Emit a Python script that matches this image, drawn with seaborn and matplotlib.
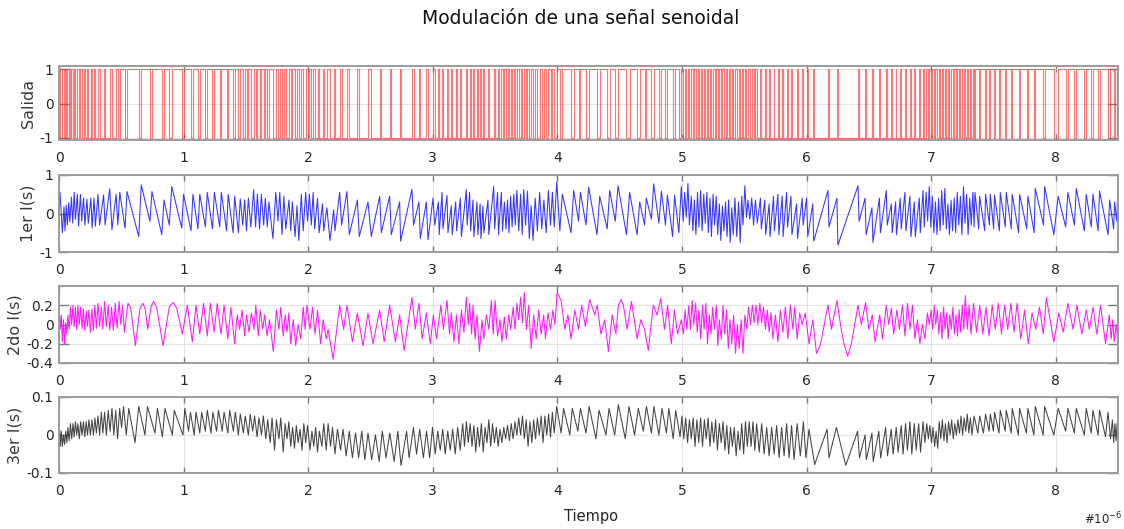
import numpy as np
import matplotlib
matplotlib.use("Agg")
import matplotlib.pyplot as plt
import seaborn as sns

# ---------------- data (time in microseconds) ----------------
titulo = "Modulación de una señal senoidal"
etiquetas_y = ["Salida", "1er I(s)", "2do I(s)", "3er I(s)"]
ticks_x = [0, 1, 2, 3, 4, 5, 6, 7, 8]

# 1st integrator: vertices (t, value); its slope changes exactly where the output switches
int1_pts = [
    (0.000,0.00),(0.008,0.55),(0.027,-0.50),(0.040,0.18),(0.048,-0.45),(0.058,0.22),(0.067,-0.30),(0.078,0.28),
    (0.087,-0.22),(0.100,0.42),(0.110,-0.25),(0.122,0.55),(0.132,-0.15),(0.147,0.50),(0.157,-0.33),(0.172,0.50),
    (0.182,-0.20),(0.197,0.40),(0.208,-0.30),(0.224,0.37),(0.235,-0.25),(0.256,0.40),(0.266,-0.38),(0.281,0.40),
    (0.292,-0.33),(0.313,0.50),(0.326,-0.30),(0.358,0.48),(0.370,-0.30),(0.407,0.64),(0.425,-0.42),(0.458,0.50),
    (0.472,-0.30),(0.488,0.55),(0.530,-0.38),(0.546,0.57),(0.640,-0.60),(0.660,0.74),(0.730,-0.20),(0.746,0.57),
    (0.825,-0.55),(0.843,0.35),(0.885,-0.30),(0.905,0.70),(0.985,-0.38),
    (1.000,0.50),(1.060,-0.45),(1.075,0.50),(1.115,-0.40),(1.130,0.50),(1.175,-0.35),(1.190,0.55),(1.232,-0.40),
    (1.247,0.55),(1.290,-0.35),(1.303,0.55),(1.345,-0.45),(1.358,0.50),(1.397,-0.50),(1.410,0.45),(1.440,-0.50),
    (1.455,0.38),(1.475,-0.30),(1.490,0.35),(1.505,-0.45),(1.520,0.40),(1.540,-0.35),(1.562,0.62),(1.578,-0.35),
    (1.592,0.50),(1.610,-0.40),(1.624,0.50),(1.643,-0.30),(1.656,0.40),(1.672,-0.35),(1.685,0.30),(1.717,-0.65),
    (1.740,0.55),(1.758,-0.20),(1.772,0.55),(1.790,-0.55),(1.805,0.45),(1.820,-0.40),(1.846,0.35),(1.860,-0.45),
    (1.873,0.30),(1.895,-0.60),(1.910,0.20),(1.925,-0.70),(1.945,0.50),(1.960,-0.45),(1.980,0.55),(1.995,-0.20),
    (2.010,0.50),(2.025,-0.30),(2.040,0.55),(2.052,-0.40),(2.075,0.40),(2.088,-0.50),(2.115,0.25),(2.125,-0.45),
    (2.150,0.15),(2.175,-0.70),(2.205,0.10),(2.215,-0.45),(2.253,0.55),(2.268,-0.30),(2.311,0.57),(2.330,-0.55),
    (2.395,0.35),(2.410,-0.60),(2.480,0.30),(2.507,-0.60),(2.574,0.45),(2.587,-0.50),(2.654,0.45),(2.667,-0.55),
    (2.734,0.30),(2.742,-0.72),(2.833,0.63),(2.846,-0.30),(2.889,0.30),(2.900,-0.65),(2.948,0.30),(2.962,-0.68),
    (3.002,0.40),(3.016,-0.30),
    (3.045,0.30),(3.052,-0.55),(3.074,0.55),(3.082,-0.40),(3.114,0.47),(3.122,-0.50),(3.149,0.20),(3.156,-0.55),
    (3.184,0.30),(3.192,-0.45),(3.221,0.40),(3.230,-0.60),(3.269,0.62),(3.276,-0.30),(3.296,0.55),(3.304,-0.45),
    (3.323,0.35),(3.330,-0.60),(3.355,0.30),(3.362,-0.55),(3.380,0.25),(3.387,-0.65),(3.403,0.20),(3.410,-0.50),
    (3.443,0.35),(3.450,-0.55),(3.489,0.70),(3.497,-0.40),(3.520,0.55),(3.528,-0.55),(3.550,0.55),(3.560,-0.45),
    (3.575,0.30),(3.588,-0.40),(3.600,0.35),(3.612,-0.50),(3.625,0.45),(3.637,-0.35),(3.650,0.50),(3.662,-0.30),
    (3.675,0.60),(3.690,-0.45),(3.705,0.50),(3.718,-0.55),(3.730,0.62),(3.745,-0.30),(3.760,0.58),(3.775,-0.65),
    (3.790,0.20),(3.805,-0.70),(3.822,0.40),(3.840,-0.45),(3.858,0.55),(3.875,-0.40),(3.892,0.35),(3.910,-0.50),
    (3.928,0.60),(3.945,-0.30),(3.960,0.55),(3.975,-0.35),(3.995,0.82),
    (4.020,-0.45),(4.040,0.50),(4.110,-0.50),(4.131,0.60),(4.170,-0.20),(4.185,0.55),(4.230,-0.30),(4.251,0.68),
    (4.318,-0.55),(4.340,0.45),(4.400,-0.40),(4.420,0.60),(4.465,-0.20),(4.487,0.72),(4.555,-0.55),(4.580,0.55),
    (4.640,-0.55),(4.661,0.30),(4.700,-0.30),(4.714,0.40),(4.755,-0.15),(4.773,0.77),(4.815,-0.25),(4.835,0.58),
    (4.868,-0.30),(4.883,0.48),(4.925,-0.60),(4.941,0.48),(4.975,-0.50),(4.995,0.70),
    (5.010,-0.20),(5.022,0.55),(5.035,-0.10),(5.048,0.78),(5.060,-0.30),(5.075,0.45),(5.088,-0.45),(5.100,0.35),
    (5.112,-0.55),(5.125,0.55),(5.137,-0.35),(5.150,0.60),(5.162,-0.45),(5.175,0.50),(5.187,-0.25),(5.200,0.55),
    (5.212,-0.50),(5.225,0.40),(5.237,-0.60),(5.250,0.50),(5.262,-0.30),(5.275,0.45),(5.287,-0.55),(5.300,0.25),
    (5.312,-0.70),(5.325,0.20),(5.337,-0.45),(5.350,0.30),(5.362,-0.60),(5.375,0.35),(5.387,-0.75),(5.400,0.15),
    (5.412,-0.55),(5.425,0.40),(5.440,-0.60),(5.455,0.30),(5.468,-0.75),(5.480,0.45),(5.490,-0.30),(5.505,0.72),
    (5.518,-0.10),(5.530,0.35),(5.545,-0.15),(5.560,0.40),(5.575,-0.30),(5.590,0.35),(5.605,-0.25),
    (5.630,0.40),(5.637,-0.40),(5.665,0.35),(5.672,-0.55),(5.700,0.25),(5.707,-0.60),(5.735,0.45),(5.742,-0.45),
    (5.770,0.50),(5.778,-0.55),(5.805,0.45),(5.812,-0.60),(5.840,0.55),(5.848,-0.35),(5.875,0.45),(5.883,-0.55),
    (5.920,0.25),(5.928,-0.65),(5.965,0.40),(5.973,-0.30),(6.000,0.40),(6.010,-0.60),
    (6.050,0.25),(6.058,-0.72),(6.172,0.60),(6.180,-0.35),(6.244,0.40),(6.252,-0.82),(6.413,0.72),(6.422,-0.20),
    (6.470,0.40),(6.478,-0.55),(6.525,0.15),(6.533,-0.75),(6.585,0.40),(6.593,-0.50),(6.640,0.60),(6.648,-0.30),
    (6.680,0.25),(6.688,-0.50),(6.715,0.30),(6.722,-0.55),(6.752,0.40),(6.760,-0.40),(6.790,0.55),(6.798,-0.45),
    (6.830,0.45),(6.838,-0.60),(6.865,0.30),(6.873,-0.60),(6.905,0.40),(6.913,-0.50),(6.935,0.60),(6.945,-0.35),
    (6.960,0.55),(6.972,-0.20),(6.985,0.70),(6.998,-0.35),(7.010,0.45),(7.022,-0.50),(7.035,0.30),(7.047,-0.55),
    (7.060,0.40),(7.072,-0.45),(7.085,0.60),(7.097,-0.30),(7.110,0.65),(7.122,-0.40),(7.135,0.25),(7.147,-0.55),
    (7.160,0.35),(7.172,-0.45),(7.185,0.40),(7.197,-0.50),(7.210,0.55),(7.222,-0.30),(7.235,0.45),(7.247,-0.55),
    (7.260,0.70),(7.272,-0.25),(7.285,0.50),(7.297,-0.55),(7.310,0.40),(7.322,-0.30),(7.335,0.55),
    (7.345,-0.35),(7.352,0.55),(7.382,-0.40),(7.389,0.45),(7.430,-0.45),(7.437,0.50),(7.468,-0.30),(7.475,0.50),
    (7.502,-0.40),(7.509,0.48),(7.548,-0.45),(7.555,0.55),(7.595,-0.35),(7.603,0.55),(7.643,-0.40),(7.651,0.50),
    (7.702,-0.50),(7.710,0.50),(7.768,-0.40),(7.777,0.45),(7.827,-0.50),(7.836,0.65),(7.902,-0.30),(7.911,0.70),
    (7.985,-0.55),
    (8.020,0.45),(8.080,-0.35),(8.098,0.55),(8.150,-0.30),(8.165,0.65),(8.230,-0.45),(8.245,0.50),(8.285,-0.35),
    (8.299,0.50),(8.340,-0.45),(8.352,0.58),(8.420,-0.55),(8.433,0.35),(8.465,-0.40),(8.473,0.30),(8.490,-0.20),
    (8.500,0.70),
]

# 2nd integrator: vertices (t, value)
int2_pts = [
    (0.000,0.20),(0.010,-0.05),(0.018,0.10),(0.027,-0.18),(0.036,0.05),(0.045,-0.20),(0.054,0.02),(0.063,-0.10),
    (0.072,0.10),(0.082,-0.05),(0.092,0.18),(0.102,0.00),(0.112,0.20),(0.122,-0.02),(0.132,0.18),(0.142,-0.05),
    (0.152,0.20),(0.163,0.00),(0.174,0.18),(0.185,-0.04),(0.196,0.16),(0.207,-0.06),(0.218,0.14),(0.229,-0.02),
    (0.240,0.15),(0.252,-0.08),(0.264,0.16),(0.276,-0.06),(0.288,0.20),(0.300,-0.04),(0.313,0.22),(0.326,-0.02),
    (0.340,0.18),(0.352,-0.05),(0.366,0.24),(0.380,-0.02),(0.395,0.20),(0.408,-0.06),(0.422,0.18),(0.436,-0.06),
    (0.452,0.22),(0.466,-0.04),(0.482,0.24),(0.496,0.00),(0.510,0.20),(0.525,-0.08),(0.554,0.22),(0.575,0.17),
    (0.613,-0.22),(0.650,0.17),(0.674,0.22),(0.692,0.16),(0.712,-0.05),(0.740,0.19),(0.760,0.24),(0.785,0.17),
    (0.835,-0.22),(0.885,0.18),(0.915,0.23),(0.945,0.17),(0.990,-0.10),
    (1.030,0.20),(1.070,-0.18),(1.100,0.20),(1.130,-0.10),(1.160,0.22),(1.190,-0.12),(1.215,0.22),(1.245,-0.08),
    (1.270,0.22),(1.300,-0.10),(1.325,0.20),(1.355,-0.15),(1.380,0.18),(1.410,-0.20),(1.430,0.10),(1.450,-0.05),
    (1.470,0.15),(1.490,-0.12),(1.505,0.10),(1.525,-0.08),(1.545,0.12),(1.565,-0.05),(1.580,0.20),(1.600,-0.12),
    (1.615,0.15),(1.635,-0.05),(1.650,0.10),(1.670,-0.12),(1.690,0.05),(1.720,-0.28),(1.745,0.15),(1.765,-0.05),
    (1.780,0.18),(1.800,-0.12),(1.815,0.10),(1.830,-0.08),(1.845,0.12),(1.860,-0.20),(1.880,0.05),(1.900,-0.22),
    (1.920,0.00),(1.940,-0.15),(1.960,0.18),(1.975,-0.05),(1.990,0.20),
    (2.015,-0.05),(2.035,0.18),(2.055,-0.10),(2.075,0.15),(2.100,-0.20),(2.120,0.05),(2.145,-0.15),(2.160,-0.05),
    (2.200,-0.36),(2.253,0.20),(2.285,-0.05),(2.311,0.20),(2.355,-0.18),(2.395,0.12),(2.440,-0.22),(2.480,0.12),
    (2.520,-0.20),(2.574,0.15),(2.610,-0.18),(2.654,0.20),(2.700,-0.18),(2.734,0.10),(2.770,-0.27),(2.833,0.28),
    (2.860,-0.05),(2.889,0.22),(2.915,-0.15),(2.948,0.12),(2.980,-0.20),(3.005,0.10),
    (3.030,-0.15),(3.065,0.20),(3.085,-0.05),(3.114,0.25),(3.135,-0.10),(3.149,0.12),(3.170,-0.18),(3.190,0.10),
    (3.210,-0.20),(3.230,0.15),(3.250,-0.08),(3.269,0.28),(3.285,0.00),(3.296,0.22),(3.312,-0.10),(3.323,0.20),
    (3.340,-0.15),(3.355,0.10),(3.375,-0.28),(3.395,0.05),(3.410,-0.15),(3.430,0.10),(3.450,-0.05),(3.470,0.25),
    (3.485,-0.10),(3.500,0.25),(3.520,-0.12),(3.540,0.05),(3.555,-0.18),(3.575,0.08),(3.590,-0.15),(3.610,0.10),
    (3.625,-0.05),(3.645,0.18),(3.660,-0.05),(3.675,0.22),(3.690,0.05),(3.705,0.28),(3.720,0.02),(3.735,0.33),
    (3.752,-0.05),(3.770,0.20),(3.790,-0.25),(3.810,0.10),(3.830,-0.15),(3.850,0.15),(3.870,-0.10),(3.890,0.10),
    (3.905,-0.15),(3.925,0.12),(3.945,-0.05),(3.965,0.15),(3.980,0.00),(3.998,0.33),
    (4.030,0.25),(4.060,-0.05),(4.085,0.10),(4.110,-0.15),(4.140,0.15),(4.170,-0.05),(4.195,0.20),(4.225,-0.02),
    (4.260,0.26),(4.300,0.10),(4.320,0.20),(4.350,-0.10),(4.380,0.05),(4.410,-0.28),(4.440,0.10),(4.470,-0.10),
    (4.490,0.20),(4.510,0.26),(4.530,0.20),(4.560,-0.05),(4.595,0.24),(4.640,-0.15),(4.670,0.05),(4.700,-0.05),
    (4.730,-0.27),(4.770,0.20),(4.800,0.10),(4.830,0.27),(4.860,-0.05),(4.885,0.20),(4.915,-0.20),(4.940,0.15),
    (4.965,-0.10),(4.995,0.05),
    (5.012,-0.10),(5.025,0.15),(5.040,-0.05),(5.055,0.20),(5.068,-0.05),(5.082,0.25),(5.095,0.00),(5.110,0.22),
    (5.123,-0.08),(5.137,0.15),(5.150,-0.15),(5.165,0.20),(5.178,-0.05),(5.192,0.22),(5.205,-0.20),(5.220,0.10),
    (5.233,-0.10),(5.247,0.18),(5.260,-0.05),(5.275,0.20),(5.288,-0.22),(5.300,0.05),(5.315,-0.15),(5.330,0.20),
    (5.343,-0.10),(5.358,0.15),(5.372,-0.25),(5.385,0.05),(5.400,-0.20),(5.415,0.10),(5.430,-0.30),(5.445,0.00),
    (5.460,-0.25),(5.475,0.05),(5.490,-0.30),(5.505,0.10),(5.520,-0.05),(5.535,0.18),(5.550,0.00),(5.565,0.20),
    (5.580,0.02),(5.595,0.20),(5.610,0.00),(5.625,0.22),(5.640,0.02),(5.655,0.18),(5.670,-0.05),(5.685,0.15),
    (5.700,-0.08),(5.715,0.12),(5.730,-0.15),(5.750,0.10),(5.770,-0.18),(5.790,0.15),(5.810,-0.08),(5.830,0.18),
    (5.850,-0.15),(5.870,0.20),(5.890,-0.05),(5.905,0.18),(5.925,-0.15),(5.945,0.12),(5.965,0.00),(5.990,0.12),
    (6.020,-0.20),(6.050,0.05),(6.080,-0.30),(6.110,-0.22),(6.172,0.20),(6.200,-0.05),(6.244,0.25),(6.275,-0.02),
    (6.300,-0.20),(6.330,-0.33),(6.360,-0.20),(6.413,0.20),(6.440,0.00),(6.474,0.23),(6.500,-0.05),(6.528,0.10),
    (6.550,-0.18),(6.587,0.10),(6.610,-0.15),(6.640,0.20),(6.660,0.00),(6.680,0.17),(6.700,-0.10),(6.725,0.15),
    (6.745,-0.05),(6.770,0.20),(6.790,-0.12),(6.810,0.22),(6.830,-0.05),(6.850,0.20),(6.870,-0.15),(6.890,0.05),
    (6.910,-0.20),(6.930,0.00),(6.950,-0.15),(6.970,0.12),
    (6.985,0.00),(7.000,0.15),(7.012,-0.05),(7.025,0.20),(7.037,0.00),(7.050,0.15),(7.062,-0.10),(7.075,0.12),
    (7.087,-0.15),(7.100,0.18),(7.112,-0.05),(7.125,0.12),(7.137,-0.15),(7.150,0.10),(7.162,-0.05),(7.175,0.18),
    (7.187,-0.10),(7.200,0.10),(7.212,-0.12),(7.225,0.15),(7.237,-0.08),(7.250,0.20),(7.262,-0.05),(7.275,0.30),
    (7.290,-0.05),(7.305,0.20),(7.320,-0.10),(7.340,0.22),(7.365,-0.08),(7.390,0.20),(7.415,-0.10),(7.440,0.18),
    (7.465,-0.12),(7.490,0.20),(7.515,-0.05),(7.540,0.22),(7.565,-0.10),(7.590,0.20),(7.615,-0.05),(7.640,0.22),
    (7.665,-0.08),(7.690,0.22),(7.720,-0.15),(7.750,0.15),(7.780,-0.20),(7.810,0.12),(7.840,-0.05),(7.870,0.18),
    (7.900,-0.10),(7.925,0.28),(7.985,-0.18),
    (8.025,0.12),(8.060,-0.08),(8.098,0.22),(8.140,-0.05),(8.170,0.20),(8.210,-0.10),(8.245,0.15),(8.270,-0.05),
    (8.300,0.18),(8.330,-0.10),(8.360,0.20),(8.400,-0.20),(8.430,0.10),(8.445,-0.15),(8.458,0.05),(8.470,-0.18),
    (8.485,0.00),(8.495,-0.12),(8.500,0.05),
]

# 3rd integrator: vertices (t, value)
int3_pts = [
    (0.000,0.050),(0.010,-0.030),(0.018,0.010),(0.027,-0.030),(0.036,0.000),(0.045,-0.025),(0.054,0.010),(0.063,-0.020),
    (0.072,0.020),(0.082,-0.015),(0.092,0.030),(0.102,-0.010),(0.112,0.030),(0.122,-0.005),(0.132,0.035),(0.142,0.000),
    (0.152,0.030),(0.163,-0.010),(0.174,0.035),(0.185,0.000),(0.196,0.035),(0.207,-0.005),(0.218,0.035),(0.229,0.000),
    (0.240,0.040),(0.252,0.000),(0.264,0.040),(0.276,0.000),(0.288,0.045),(0.300,0.005),(0.313,0.050),(0.326,0.000),
    (0.340,0.060),(0.352,0.005),(0.366,0.060),(0.380,0.000),(0.395,0.065),(0.410,0.010),(0.425,0.070),(0.440,0.000),
    (0.455,0.065),(0.470,-0.010),(0.487,0.070),(0.502,0.020),(0.518,0.075),(0.540,0.000),(0.560,0.070),(0.610,-0.020),
    (0.640,0.075),(0.690,0.000),(0.710,0.075),(0.770,0.005),(0.790,0.070),(0.830,-0.005),(0.850,0.070),(0.910,0.000),
    (0.925,0.065),(0.995,0.000),
    (1.010,0.070),(1.040,0.010),(1.055,0.060),(1.085,0.000),(1.100,0.060),(1.130,0.005),(1.145,0.060),(1.175,0.010),
    (1.190,0.065),(1.220,0.005),(1.235,0.060),(1.265,0.010),(1.280,0.065),(1.310,0.010),(1.325,0.060),(1.355,0.005),
    (1.370,0.065),(1.400,0.010),(1.415,0.060),(1.440,0.000),(1.455,0.055),(1.480,0.005),(1.495,0.050),(1.520,0.000),
    (1.535,0.055),(1.555,0.010),(1.570,0.050),(1.590,-0.005),(1.605,0.045),(1.625,0.000),(1.640,0.050),(1.660,-0.010),
    (1.675,0.040),(1.695,-0.020),(1.710,0.045),(1.730,-0.040),(1.745,0.040),(1.765,-0.010),(1.780,0.045),(1.800,-0.045),
    (1.815,0.030),(1.830,-0.010),(1.845,0.035),(1.860,-0.030),(1.875,0.020),(1.890,-0.035),(1.905,0.025),(1.920,-0.020),
    (1.935,0.015),(1.950,-0.040),(1.965,0.030),(1.980,-0.020),(1.995,0.025),
    (2.015,-0.040),(2.030,0.010),(2.045,-0.030),(2.060,0.020),(2.075,-0.045),(2.090,0.010),(2.110,-0.030),(2.125,0.030),
    (2.145,-0.040),(2.160,0.030),(2.180,-0.030),(2.195,0.020),(2.215,-0.050),(2.235,0.015),(2.260,-0.040),(2.280,0.015),
    (2.305,-0.055),(2.330,0.010),(2.355,-0.060),(2.380,0.005),(2.405,-0.060),(2.430,0.010),(2.455,-0.065),(2.480,0.005),
    (2.510,-0.065),(2.540,0.000),(2.570,-0.070),(2.595,0.010),(2.625,-0.060),(2.655,0.005),(2.690,-0.070),(2.720,0.010),
    (2.745,-0.080),(2.790,0.010),(2.810,-0.060),(2.845,0.020),(2.870,-0.050),(2.895,0.015),(2.925,-0.060),(2.950,0.010),
    (2.975,-0.060),(2.998,0.020),
    (3.020,-0.050),(3.040,0.010),(3.060,-0.040),(3.080,0.015),(3.100,-0.050),(3.120,0.010),(3.140,-0.040),(3.160,0.015),
    (3.180,-0.050),(3.200,0.020),(3.220,-0.040),(3.240,0.030),(3.255,-0.030),(3.270,0.035),(3.285,-0.020),(3.300,0.030),
    (3.315,-0.030),(3.330,0.025),(3.345,-0.045),(3.360,0.020),(3.375,-0.030),(3.390,0.030),(3.405,-0.045),(3.420,0.020),
    (3.435,-0.020),(3.450,0.040),(3.465,-0.030),(3.480,0.030),(3.495,-0.020),(3.510,0.020),(3.525,-0.030),(3.540,0.015),
    (3.555,-0.020),(3.570,0.020),(3.585,-0.010),(3.600,0.025),(3.615,-0.015),(3.630,0.030),(3.645,-0.010),(3.660,0.035),
    (3.675,0.000),(3.690,0.045),(3.705,0.000),(3.720,0.050),(3.735,-0.010),(3.750,0.040),(3.765,-0.030),(3.780,0.035),
    (3.795,-0.020),(3.810,0.040),(3.825,-0.010),(3.840,0.045),(3.855,0.000),(3.870,0.050),(3.885,-0.020),(3.900,0.050),
    (3.915,0.000),(3.930,0.055),(3.945,-0.005),(3.960,0.060),(3.975,0.005),(3.995,0.075),
    (4.030,0.005),(4.050,0.070),(4.100,0.000),(4.120,0.070),(4.165,0.010),(4.185,0.070),(4.230,0.005),(4.255,0.075),
    (4.310,-0.010),(4.335,0.065),(4.390,0.000),(4.415,0.070),(4.460,0.000),(4.490,0.080),(4.545,-0.010),(4.575,0.075),
    (4.620,0.000),(4.650,0.070),(4.690,0.010),(4.715,0.075),(4.755,0.005),(4.775,0.075),(4.815,0.000),(4.840,0.070),
    (4.875,0.005),(4.895,0.070),(4.930,-0.010),(4.950,0.065),(4.985,-0.005),
    (5.000,0.050),(5.015,-0.010),(5.030,0.045),(5.045,-0.020),(5.060,0.040),(5.075,-0.010),(5.090,0.045),(5.105,-0.030),
    (5.120,0.040),(5.135,-0.020),(5.150,0.045),(5.165,-0.030),(5.180,0.040),(5.195,-0.010),(5.210,0.045),(5.225,-0.030),
    (5.240,0.035),(5.255,-0.020),(5.270,0.040),(5.285,-0.040),(5.300,0.030),(5.315,-0.020),(5.330,0.035),(5.345,-0.040),
    (5.360,0.025),(5.375,-0.050),(5.390,0.020),(5.405,-0.030),(5.420,0.020),(5.435,-0.055),(5.450,0.010),(5.465,-0.040),
    (5.480,0.030),(5.495,-0.050),(5.510,0.035),(5.525,-0.030),(5.540,0.035),(5.555,-0.030),(5.570,0.035),(5.585,-0.040),
    (5.600,0.030),(5.620,-0.045),(5.640,0.030),(5.660,-0.050),(5.680,0.020),(5.700,-0.055),(5.720,0.020),(5.740,-0.050),
    (5.760,0.025),(5.780,-0.060),(5.800,0.020),(5.820,-0.055),(5.840,0.030),(5.860,-0.060),(5.880,0.025),(5.900,-0.065),
    (5.925,0.030),(5.950,-0.055),(5.975,0.035),(5.995,-0.060),
    (6.020,0.015),(6.065,-0.078),(6.165,0.015),(6.180,-0.060),(6.240,0.020),(6.315,-0.080),(6.410,0.010),(6.425,-0.060),
    (6.470,0.000),(6.480,-0.065),(6.525,0.005),(6.535,-0.070),(6.580,0.010),(6.595,-0.060),(6.635,0.020),(6.650,-0.055),
    (6.680,0.015),(6.695,-0.050),(6.720,0.020),(6.735,-0.045),(6.760,0.025),(6.775,-0.050),(6.795,0.030),(6.810,-0.040),
    (6.830,0.035),(6.845,-0.050),(6.865,0.030),(6.880,-0.040),(6.900,0.030),(6.915,-0.045),(6.935,0.035),(6.950,-0.020),
    (6.965,0.030),(6.978,-0.010),(6.990,0.025),(7.003,-0.020),(7.015,0.020),(7.028,-0.030),(7.040,0.010),(7.053,-0.035),
    (7.065,0.035),(7.078,-0.010),(7.090,0.040),(7.103,-0.015),(7.115,0.030),(7.128,-0.020),(7.140,0.035),(7.153,0.000),
    (7.165,0.040),(7.178,-0.010),(7.190,0.030),(7.203,0.000),(7.215,0.040),(7.228,0.005),(7.240,0.050),(7.253,0.000),
    (7.265,0.045),(7.278,0.010),(7.290,0.055),(7.303,0.005),(7.315,0.045),(7.328,0.000),(7.345,0.050),(7.375,0.005),
    (7.390,0.050),(7.420,0.005),(7.437,0.055),(7.465,0.010),(7.475,0.055),(7.500,0.010),(7.509,0.060),(7.545,0.005),
    (7.555,0.065),(7.595,0.010),(7.603,0.065),(7.643,0.005),(7.651,0.070),(7.700,0.000),(7.710,0.070),(7.765,0.005),
    (7.777,0.070),(7.825,0.000),(7.836,0.075),(7.900,0.000),(7.911,0.075),(7.985,0.000),
    (8.020,0.070),(8.080,0.010),(8.098,0.070),(8.150,0.005),(8.165,0.070),(8.230,0.000),(8.245,0.070),(8.285,0.005),
    (8.299,0.065),(8.340,0.000),(8.352,0.065),(8.400,-0.005),(8.420,0.060),(8.440,-0.010),(8.455,0.040),(8.465,-0.020),
    (8.475,0.030),(8.485,-0.015),(8.492,0.030),(8.500,0.005),
]

# ---------------- preparation ----------------
int1 = np.array(int1_pts)
int2 = np.array(int2_pts)
int3 = np.array(int3_pts)
# output of the modulator: -1 while the 1st integrator rises, +1 while it falls
nivel = np.where(np.diff(int1[:, 1]) > 0, -1.0, 1.0)
salida_t = int1[:, 0]
salida_y = np.append(nivel, nivel[-1])

# ---------------- figure ----------------
sns.set_style("white")
plt.rcParams["font.family"] = ["DejaVu Sans"]

W, H = 1124, 529
fig = plt.figure(figsize=(W / 100, H / 100), dpi=100)

def box(left, top, right, bottom):
    return [left / W, 1 - bottom / H, (right - left) / W, (bottom - top) / H]

paneles = [
    dict(rect=box(59, 66, 1118, 140), t=salida_t, y=salida_y, color="#ff3030", lw=0.8, alpha=0.65,
         ylim=(-1.07, 1.10), yticks=[-1, 0, 1], yticklabels=["-1", "0", "1"], ds="steps-post"),
    dict(rect=box(59, 175, 1118, 252), t=int1[:, 0], y=int1[:, 1], color="#2020ff", lw=0.75, alpha=0.9,
         ylim=(-1, 1), yticks=[-1, 0, 1], yticklabels=["-1", "0", "1"], ds="default"),
    dict(rect=box(59, 286, 1118, 363), t=int2[:, 0], y=int2[:, 1], color="#ff00ff", lw=0.75, alpha=0.9,
         ylim=(-0.4, 0.4), yticks=[-0.4, -0.2, 0, 0.2], yticklabels=["-0.4", "-0.2", "0", "0.2"], ds="default"),
    dict(rect=box(59, 397, 1118, 473), t=int3[:, 0], y=int3[:, 1], color="#303030", lw=0.75, alpha=0.9,
         ylim=(-0.1, 0.1), yticks=[-0.1, 0, 0.1], yticklabels=["-0.1", "0", "0.1"], ds="default"),
]

for i, p in enumerate(paneles):
    ax = fig.add_axes(p["rect"])
    sns.lineplot(x=p["t"], y=p["y"], ax=ax, color=p["color"], linewidth=p["lw"], alpha=p["alpha"],
                 estimator=None, sort=False, drawstyle=p["ds"])
    ax.set_xlim(0, 8.5)
    ax.set_ylim(*p["ylim"])
    ax.set_xticks(ticks_x)
    ax.set_xticklabels([str(v) for v in ticks_x])
    ax.set_yticks(p["yticks"])
    ax.set_yticklabels(p["yticklabels"])
    ax.grid(True, color="#e4e4e4", linewidth=0.8)
    ax.set_axisbelow(True)
    for s in ax.spines.values():
        s.set_color("#9c9c9c")
        s.set_linewidth(1.4)
    ax.tick_params(axis="x", direction="in", length=4.5, width=1.0, color="#7a7a7a",
                   top=True, bottom=True, labelsize=10, labelcolor="#262626", pad=8)
    ax.tick_params(axis="y", direction="in", length=7.5, width=1.0, color="#7a7a7a",
                   left=True, right=True, labelsize=10, labelcolor="#262626", pad=4)
    ax.set_ylabel(etiquetas_y[i], fontsize=11.5, color="#3a3a3a", labelpad=3)
    ax.set_xlabel("")

fig.text(581 / W, 1 - 18 / H, titulo, ha="center", va="center", fontsize=13.5, color="#111111")
fig.text(591 / W, 1 - 516 / H, "Tiempo", ha="center", va="center", fontsize=10.5, color="#262626")
fig.text(1103 / W, 1 - 519 / H, r"#10$^{-6}$", ha="center", va="center", fontsize=8.5, color="#262626")

fig.savefig("out.png", dpi=100)
